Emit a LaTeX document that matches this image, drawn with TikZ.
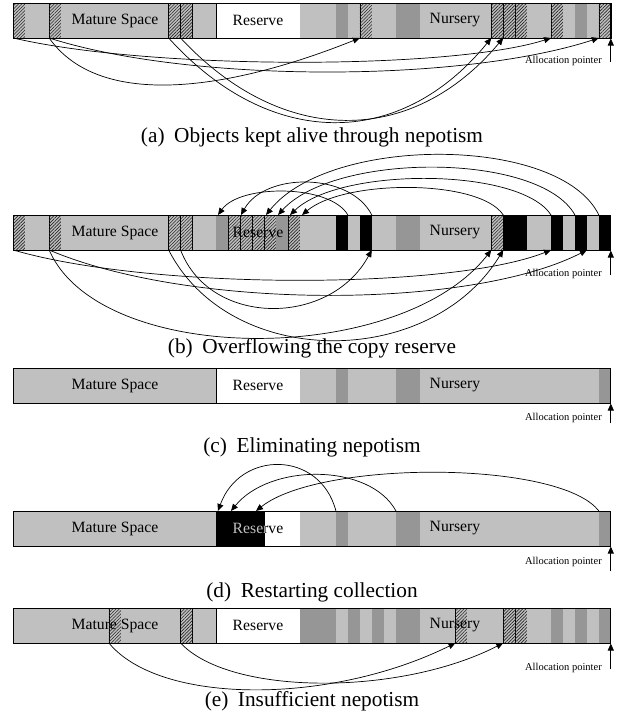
\documentclass[tikz,border=0pt]{standalone}
\usepackage{fontspec}
\setmainfont{Liberation Serif}
\usetikzlibrary{arrows.meta,patterns.meta}
\definecolor{cG}{RGB}{192,192,192}
\definecolor{cD}{RGB}{150,150,150}
\newcommand\cellrow[2]{%
  \foreach \s/\e/\st in {#2}{\path[\st] ({13.3+11.95*\s},#1) rectangle ({13.3+11.95*\e},{#1+35});}
  \draw[line width=0.8pt] (13.3,#1) rectangle (610.8,{#1+35});}
\begin{document}
\begin{tikzpicture}[x=1pt,y=-1pt,
  G/.style={fill=cG},
  D/.style={fill=cD},
  W/.style={fill=white,draw=black,line width=0.6pt},
  B/.style={fill=black},
  H/.style={fill=cG,postaction={pattern={Lines[angle=45,distance=2.3pt,line width=0.6pt]},pattern color=black!85},draw=black,line width=0.6pt},
  lab/.style={font=\fontsize{15.7}{17}\selectfont,inner sep=0pt},
  alab/.style={font=\fontsize{10.5}{12}\selectfont,anchor=east,inner sep=0pt},
  captext/.style={font=\fontsize{21.3}{24}\selectfont,anchor=base,inner sep=0pt},
  arr/.style={-{Triangle[length=7pt,width=6pt]},line width=0.7pt}]
\useasboundingbox (0,0) rectangle (619,712);
% ---------------- (a)
\cellrow{3}{0/1/H,1/3/G,3/4/H,4/13/G,13/14/H,14/15/H,15/17/G,17/24/W,24/27/G,27/28/D,28/29/G,29/30/H,30/32/G,32/34/D,34/40/G,40/41/H,41/42/H,42/43/H,43/45/G,45/46/H,46/47/G,47/48/D,48/49/G,49/50/H}
\node[lab] (am) at (115,20.5) {Mature Space};
\node[lab] (ar) at (258,20.5) {Reserve};
\node[lab] (an) at (455,20.5) {Nursery};
\coordinate (ah0) at (13.3,38); \coordinate (ah3) at (49.15,38);
\coordinate (ah13) at (168.65,38); \coordinate (ah14) at (180.6,38);
\coordinate (ah29) at (359.85,38); \coordinate (ah40) at (491.3,38);
\coordinate (ah41) at (503.25,38); \coordinate (ah45) at (551.05,38);
\coordinate (ah49) at (598.85,38);
\draw[arr] (ah0) .. controls (150,70) and (450,70) .. (ah45);
\draw[arr] (ah3) .. controls (190,83) and (460,83) .. (ah49);
\draw[arr] (ah3) .. controls (100,110) and (230,90) .. (ah29);
\draw[arr] (ah13) .. controls (270,150) and (400,150) .. (ah40);
\draw[arr] (ah14) .. controls (282,147) and (412,147) .. (ah41);
\coordinate (ap0) at (610.8,62); \coordinate (ap1) at (610.8,38.5);
\draw[arr] (ap0) -- (ap1);
\node[alab] (aal) at (602,61) {Allocation pointer};
\node[captext] (acap) at (312,142) {(a)\hspace{0.45em}Objects kept alive through nepotism};
% ---------------- (b)
\cellrow{215}{0/1/H,1/3/G,3/4/H,4/13/G,13/14/H,14/15/H,15/17/G,17/18/D,18/19/H,19/20/H,20/21/H,21/22/H,22/23/D,23/24/H,24/27/G,27/28/B,28/29/G,29/30/B,30/32/G,32/34/D,34/40/G,40/41/H,41/43/B,43/45/G,45/46/B,46/47/G,47/48/B,48/49/G,49/50/B}
\node[lab] (bm) at (115,232.5) {Mature Space};
\node[lab] (br) at (258,232.5) {Reserve};
\node[lab] (bn) at (455,232.5) {Nursery};
% top arcs
\coordinate (bt27) at (347.9,215); \coordinate (bt29) at (371.8,215);
\coordinate (bt41) at (503.25,215); \coordinate (bt45) at (551.05,215);
\coordinate (bt47) at (574.95,215); \coordinate (bt49) at (598.85,215);
\coordinate (br1) at (218,215); \coordinate (br2) at (241,215);
\coordinate (br3) at (266,215); \coordinate (br4) at (278,215);
\coordinate (br5) at (290,215); \coordinate (br6) at (302,215);
\draw[arr] (bt27) .. controls (330,184) and (240,184) .. (br1);
\draw[arr] (bt29) .. controls (350,172) and (265,172) .. (br2);
\draw[arr] (bt41) .. controls (480,179) and (345,179) .. (br6);
\draw[arr] (bt45) .. controls (520,167) and (340,167) .. (br5);
\draw[arr] (bt47) .. controls (540,152) and (335,152) .. (br4);
\draw[arr] (bt49) .. controls (560,135) and (330,135) .. (br3);
% bottom arcs
\coordinate (bh0) at (13.3,250); \coordinate (bh3) at (49.15,250);
\coordinate (bh13) at (168.65,250); \coordinate (bh14) at (180.6,250);
\coordinate (bb29) at (371.8,250); \coordinate (bb40) at (491.3,250);
\coordinate (bb41) at (503.25,250); \coordinate (bb45) at (551.05,250);
\coordinate (bb48) at (586.9,250);
\draw[arr] (bh0) .. controls (150,290) and (450,290) .. (bb45);
\draw[arr] (bh3) .. controls (190,310) and (470,310) .. (bb48);
\draw[arr] (bh3) .. controls (100,367) and (400,367) .. (bb40);
\draw[arr] (bh13) .. controls (230,370) and (430,370) .. (bb41);
\draw[arr] (bh14) .. controls (210,327) and (330,327) .. (bb29);
\coordinate (bp0) at (610.8,275); \coordinate (bp1) at (610.8,250.5);
\draw[arr] (bp0) -- (bp1);
\node[alab] (bal) at (602,274) {Allocation pointer};
\node[captext] (bcap) at (312,353) {(b)\hspace{0.45em}Overflowing the copy reserve};
% ---------------- (c)
\cellrow{368}{0/17/G,17/24/W,24/27/G,27/28/D,28/32/G,32/34/D,34/49/G,49/50/D}
\node[lab] (cm) at (115,385.5) {Mature Space};
\node[lab] (cr) at (258,385.5) {Reserve};
\node[lab] (cn) at (455,385.5) {Nursery};
\coordinate (cp0) at (610.8,423); \coordinate (cp1) at (610.8,403.5);
\draw[arr] (cp0) -- (cp1);
\node[alab] (cal) at (602,418) {Allocation pointer};
\node[captext] (ccap) at (312,452) {(c)\hspace{0.45em}Eliminating nepotism};
% ---------------- (d)
\cellrow{511}{0/17/G,17/21/B,21/24/W,24/27/G,27/28/D,28/32/G,32/34/D,34/49/G,49/50/D}
\node[lab] (dm) at (115,528.5) {Mature Space};
\node[lab] (dr) at (258,528.5) {Reserve};
\begin{scope}
\clip (216.45,511) rectangle (264.25,546);
\node[lab,text=cG] (dr2) at (258,528.5) {Reserve};
\end{scope}
\node[lab] (dn) at (455,528.5) {Nursery};
\coordinate (dd27) at (335.95,511); \coordinate (dd32) at (396,511);
\coordinate (dd49) at (598.85,511);
\coordinate (dk1) at (218,511); \coordinate (dk2) at (231,511); \coordinate (dk3) at (256,511);
\draw[arr] (dd27) .. controls (320,450) and (240,450) .. (dk1);
\draw[arr] (dd32) .. controls (370,463) and (270,463) .. (dk2);
\draw[arr] (dd49) .. controls (560,460) and (320,460) .. (dk3);
\coordinate (dp0) at (610.8,571); \coordinate (dp1) at (610.8,546.5);
\draw[arr] (dp0) -- (dp1);
\node[alab] (dal) at (602,562) {Allocation pointer};
\node[captext] (dcap) at (312,597) {(d)\hspace{0.45em}Restarting collection};
% ---------------- (e)
\cellrow{608}{0/8/G,8/9/H,9/14/G,14/15/H,15/17/G,17/24/W,24/27/D,27/28/G,28/29/D,29/30/G,30/31/D,31/32/G,32/34/D,34/37/G,37/38/H,38/41/G,41/42/H,42/43/H,43/45/G,45/46/D,46/47/G,47/48/D,48/49/G,49/50/D}
\node[lab] (em) at (115,625.5) {Mature Space};
\node[lab] (er) at (258,625.5) {Reserve};
\node[lab] (en) at (455,625.5) {Nursery};
\coordinate (eh8) at (108.9,643); \coordinate (eh14) at (180.6,643);
\coordinate (eh37) at (455.45,643); \coordinate (eh41) at (503.25,643);
\draw[arr] (eh8) .. controls (160,705) and (330,705) .. (eh37);
\draw[arr] (eh14) .. controls (230,696) and (400,696) .. (eh41);
\coordinate (ep0) at (610.8,669); \coordinate (ep1) at (610.8,643.5);
\draw[arr] (ep0) -- (ep1);
\node[alab] (eal) at (602,668) {Allocation pointer};
\node[captext] (ecap) at (312,706) {(e)\hspace{0.45em}Insufficient nepotism};
\end{tikzpicture}
\end{document}
